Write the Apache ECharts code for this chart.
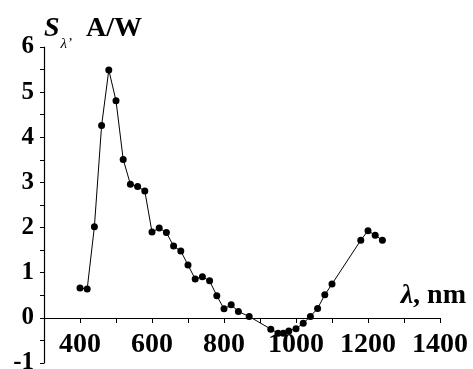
<!DOCTYPE html>
<html>
<head>
<meta charset="utf-8">
<script src="https://cdn.jsdelivr.net/npm/echarts@6/dist/echarts.min.js"></script>
<style>
  html, body { margin: 0; padding: 0; background: #fff; }
  #chart { width: 473px; height: 369px; }
</style>
</head>
<body>
<div id="chart"></div>
<script>
    'use strict';

    // wavelength, nm
    var wavelength = [400, 420, 440, 460, 480, 500, 520, 540, 560, 580,
                      600, 620, 640, 660, 680, 700, 720, 740, 760, 780,
                      800, 820, 840, 870, 930, 950, 965, 980, 1000, 1020,
                      1040, 1060, 1080, 1100, 1180, 1200, 1220, 1240];
    // spectral sensitivity, A/W
    var sensitivity = [0.66, 0.64, 2.02, 4.26, 5.49, 4.81, 3.51, 2.96, 2.91, 2.81,
                       1.90, 1.99, 1.89, 1.59, 1.48, 1.17, 0.86, 0.91, 0.82, 0.49,
                       0.20, 0.29, 0.14, 0.03, -0.25, -0.34, -0.34, -0.29, -0.24, -0.12,
                       0.03, 0.21, 0.51, 0.75, 1.72, 1.93, 1.83, 1.72];
    var xTicks = [400, 600, 800, 1000, 1200, 1400];
    var yTicks = [-1, 0, 1, 2, 3, 4, 5, 6];

    var serif = "'Liberation Serif', 'Times New Roman', serif";

    var seriesData = [];
    for (var i = 0; i < wavelength.length; i++) {
        seriesData.push([wavelength[i], sensitivity[i]]);
    }

    var option = {
        animation: false,
        backgroundColor: '#fff',
        grid: {
            left: 44,
            right: 33,
            top: 47,
            bottom: 6,
            containLabel: false,
            outerBoundsMode: 'none'
        },
        xAxis: {
            type: 'value',
            min: 300,
            max: 1400,
            interval: 100,
            position: 'bottom',
            // x axis sits on the y = 0 line (one y unit above the grid bottom)
            offset: -45,
            name: '{l|λ}{n|, nm}',
            nameLocation: 'end',
            nameGap: 26,
            nameTextStyle: {
                align: 'right',
                verticalAlign: 'bottom',
                padding: [0, 0, 8, 0],
                rich: {
                    l: { fontFamily: serif, fontWeight: 'bold', fontStyle: 'italic', fontSize: 28, color: '#000' },
                    n: { fontFamily: serif, fontWeight: 'bold', fontSize: 28, color: '#000' }
                }
            },
            splitLine: { show: false },
            axisLine: { show: true, onZero: false, lineStyle: { color: '#000', width: 1.2 } },
            axisTick: { show: true, inside: false, length: 5, lineStyle: { color: '#000' } },
            axisLabel: {
                margin: 13,
                fontFamily: serif,
                fontWeight: 'bold',
                fontSize: 28,
                color: '#000',
                formatter: function (v) {
                    return xTicks.indexOf(v) > -1 ? String(v) : '';
                }
            }
        },
        yAxis: {
            type: 'value',
            min: -1,
            max: 6,
            interval: 0.5,
            name: '{s|S}{sub|λ’}{n|  A/W}',
            nameLocation: 'end',
            nameGap: 4,
            nameTextStyle: {
                align: 'left',
                verticalAlign: 'bottom',
                padding: [0, 0, 0, 0],
                rich: {
                    s: { fontFamily: serif, fontWeight: 'bold', fontStyle: 'italic', fontSize: 28, color: '#000', lineHeight: 28 },
                    sub: { fontFamily: serif, fontStyle: 'italic', fontSize: 15, color: '#000', lineHeight: 15, padding: [30, 0, 0, 1] },
                    n: { fontFamily: serif, fontWeight: 'bold', fontSize: 28, color: '#000', lineHeight: 28 }
                }
            },
            splitLine: { show: false },
            axisLine: { show: true, onZero: false, lineStyle: { color: '#000', width: 1.2 } },
            axisTick: { show: true, inside: false, length: 4, lineStyle: { color: '#000' } },
            axisLabel: {
                margin: 10,
                fontFamily: serif,
                fontWeight: 'bold',
                fontSize: 25,
                color: '#000',
                formatter: function (v) {
                    return yTicks.indexOf(v) > -1 ? String(v) : '';
                }
            }
        },
        series: [{
            type: 'line',
            data: seriesData,
            symbol: 'circle',
            symbolSize: 7,
            itemStyle: { color: '#000' },
            lineStyle: { color: '#000', width: 1 }
        }]
    };

    echarts.init(document.getElementById('chart'), null, { renderer: 'canvas' }).setOption(option);
</script>
</body>
</html>
